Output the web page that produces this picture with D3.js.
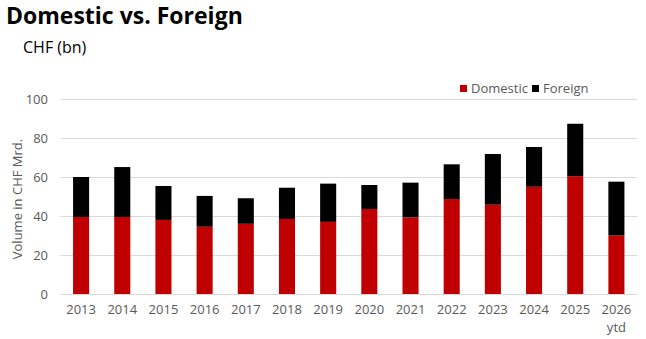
<!DOCTYPE html>
<html>
<head>
<meta charset="utf-8">
<script src="https://cdn.jsdelivr.net/npm/d3@7"></script>
<style>
  body { margin: 0; background: #fff; }
  text { font-family: "Open Sans", "Noto Sans", sans-serif; }
</style>
</head>
<body>
<svg id="chart" width="646" height="339"></svg>
<script>
// data
const years = ['2013', '2014', '2015', '2016', '2017', '2018', '2019',
               '2020', '2021', '2022', '2023', '2024', '2025', '2026'];
const domestic = [39.5, 39.5, 38, 34.5, 36, 38.5, 37, 43.6, 39.3, 48.7, 45.8, 55, 60.4, 30];
const total    = [60, 65.1, 55.4, 50.3, 49.1, 54.5, 56.6, 55.9, 57.1, 66.5, 71.8, 75.4, 87.3, 57.6];
const foreign  = total.map((t, i) => +(t - domestic[i]).toFixed(1));
const yTicks = [0, 20, 40, 60, 80, 100];

const red = '#c00000';
const black = '#000000';
const grey = '#595959';

const svg = d3.select('#chart');

const x = d3.scaleBand()
  .domain(years)
  .range([60.5, 637])
  .paddingInner(0.61)
  .paddingOuter(0.305);

const y = d3.scaleLinear()
  .domain([0, 100])
  .range([294, 99]);

// title
svg.append('text')
  .attr('x', 6).attr('y', 24)
  .style('font-size', '23px')
  .style('font-weight', 'bold')
  .attr('fill', '#000')
  .text('Domestic vs. Foreign');

svg.append('text')
  .attr('x', 23).attr('y', 53)
  .style('font-size', '16px')
  .attr('fill', '#000')
  .text('CHF (bn)');

// gridlines
svg.append('g')
  .selectAll('line')
  .data(yTicks)
  .enter().append('line')
    .attr('x1', 60.5).attr('x2', 637)
    .attr('y1', d => y(d) + 0.5).attr('y2', d => y(d) + 0.5)
    .attr('stroke', '#d9d9d9')
    .attr('stroke-width', 1);

// y axis labels
const yAxis = svg.append('g')
  .attr('transform', 'translate(48,0)')
  .call(d3.axisLeft(y).tickValues(yTicks).tickSize(0).tickPadding(0));
yAxis.select('.domain').remove();
yAxis.selectAll('text')
  .style('font-size', '13px')
  .attr('fill', grey);

svg.append('text')
  .attr('transform', 'translate(22,199) rotate(-90)')
  .attr('text-anchor', 'middle')
  .style('font-size', '13px')
  .attr('fill', grey)
  .text('Volume  in CHF Mrd.');

// bars
const bars = svg.append('g');
bars.selectAll('.dom')
  .data(years)
  .enter().append('rect')
    .attr('class', 'dom')
    .attr('x', d => x(d))
    .attr('width', x.bandwidth())
    .attr('y', (d, i) => y(domestic[i]))
    .attr('height', (d, i) => y(0) - y(domestic[i]))
    .attr('fill', red);

bars.selectAll('.for')
  .data(years)
  .enter().append('rect')
    .attr('class', 'for')
    .attr('x', d => x(d))
    .attr('width', x.bandwidth())
    .attr('y', (d, i) => y(domestic[i] + foreign[i]))
    .attr('height', (d, i) => y(domestic[i]) - y(domestic[i] + foreign[i]))
    .attr('fill', black);

// x axis labels
const xAxis = svg.append('g')
  .attr('transform', 'translate(0,303)')
  .call(d3.axisBottom(x).tickSize(0).tickPadding(0));
xAxis.select('.domain').remove();
xAxis.selectAll('text')
  .style('font-size', '13px')
  .attr('fill', grey)
  .attr('dy', '0.85em');
xAxis.selectAll('.tick')
  .filter(d => d === '2026')
  .append('text')
    .attr('y', 18)
    .attr('dy', '0.85em')
    .attr('text-anchor', 'middle')
    .style('font-size', '13px')
    .attr('fill', grey)
    .text('ytd');

// legend
const legend = [
  { name: 'Domestic', color: red, x: 460 },
  { name: 'Foreign', color: black, x: 532 }
];
const lg = svg.append('g').selectAll('g')
  .data(legend)
  .enter().append('g')
    .attr('transform', d => `translate(${d.x},85)`);
lg.append('rect')
  .attr('width', 7).attr('height', 7)
  .attr('fill', d => d.color);
lg.append('text')
  .attr('x', 11).attr('y', 8)
  .style('font-size', '13px')
  .attr('fill', grey)
  .text(d => d.name);
</script>
</body>
</html>
